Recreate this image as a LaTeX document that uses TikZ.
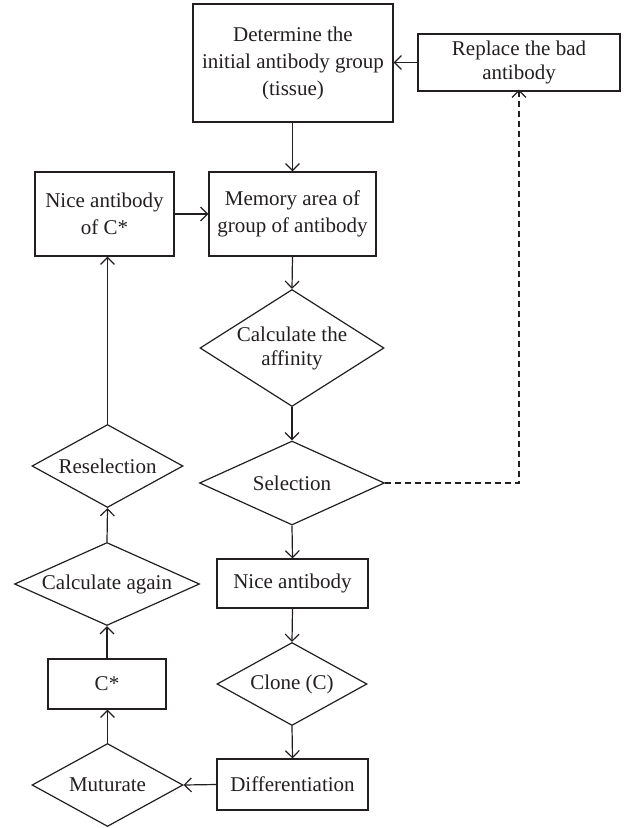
\documentclass[tikz,border=0pt]{standalone}
\usepackage{fontspec}
\setmainfont{Liberation Serif}
\usetikzlibrary{shapes.geometric,arrows.meta}
\definecolor{ink}{HTML}{231F20}
\begin{document}
\begin{tikzpicture}[x=1pt,y=-1pt,
  every node/.style={font=\fontsize{21}{27}\selectfont, text=ink},
  box/.style={draw=ink, line width=1.2pt, rectangle, inner sep=0pt, align=center},
  dia/.style={draw=ink, line width=1.2pt, diamond, inner sep=0pt, align=center, font=\fontsize{21}{24}\selectfont},
  arr/.style={draw=ink, line width=1.2pt, -{Straight Barb[length=7pt,width=14pt]}},
  darr/.style={arr, dash pattern=on 6pt off 4pt},
]
\useasboundingbox (0,0) rectangle (629,828);

% main column
\node[box, minimum width=200pt, minimum height=118pt] (top) at (293,63) {Determine the\\initial antibody group\\(tissue)};
\node[box, minimum width=202pt, minimum height=57pt, font=\fontsize{21}{24}\selectfont] (replace) at (519,62.5) {Replace the bad\\antibody};
\node[box, minimum width=167pt, minimum height=84pt] (memory) at (292.5,214) {Memory area of\\group of antibody};
\node[dia, minimum width=184pt, minimum height=117pt, aspect=1.57] (affinity) at (292,348) {Calculate the\\affinity};
\node[dia, minimum width=185pt, minimum height=84pt, aspect=2.2] (selection) at (292,483) {Selection};
\node[box, minimum width=151pt, minimum height=49pt] (niceab) at (292.5,583.5) {Nice antibody};
\node[dia, minimum width=150pt, minimum height=83pt, aspect=1.8] (clone) at (292,684) {Clone (C)};
\node[box, minimum width=151pt, minimum height=51pt] (diff) at (292.5,784.5) {Differentiation};

% left column
\node[box, minimum width=139pt, minimum height=84pt] (nicec) at (104.5,214) {Nice antibody\\of C*};
\node[dia, minimum width=151pt, minimum height=83pt, aspect=1.82] (resel) at (107.5,466) {Reselection};
\node[dia, minimum width=185pt, minimum height=83pt, aspect=2.23] (calcagain) at (107,584) {Calculate again};
\node[box, minimum width=118pt, minimum height=50pt] (cstar) at (107,684) {C*};
\node[dia, minimum width=151pt, minimum height=83pt, aspect=1.82] (mut) at (107.5,785) {Muturate};

% connectors
\draw[arr] (top.south -| memory.north) -- (memory.north);
\draw[arr] (replace.west) -- (replace.west -| top.east);
\draw[arr] (nicec.east) -- (nicec.east -| memory.west);
\draw[arr] (memory.south) -- (affinity.north);
\draw[arr] (affinity.south) -- (selection.north);
\draw[arr] (selection.south) -- (niceab.north);
\draw[arr] (niceab.south) -- (clone.north);
\draw[arr] (clone.south) -- (diff.north);
\draw[arr] (diff.west) -- (mut.east);
\draw[arr] (mut.north) -- (cstar.south -| mut.north);
\draw[arr] (cstar.north) -- (calcagain.south);
\draw[arr] (calcagain.north) -- (resel.south);
\draw[arr] (resel.north) -- (resel.north |- nicec.south);
\coordinate (dc) at (replace.south |- selection.east);
\coordinate (dtip) at ([yshift=2pt]replace.south);
\draw[darr] (selection.east) -- (dc) -- (dtip);
\end{tikzpicture}
\end{document}
